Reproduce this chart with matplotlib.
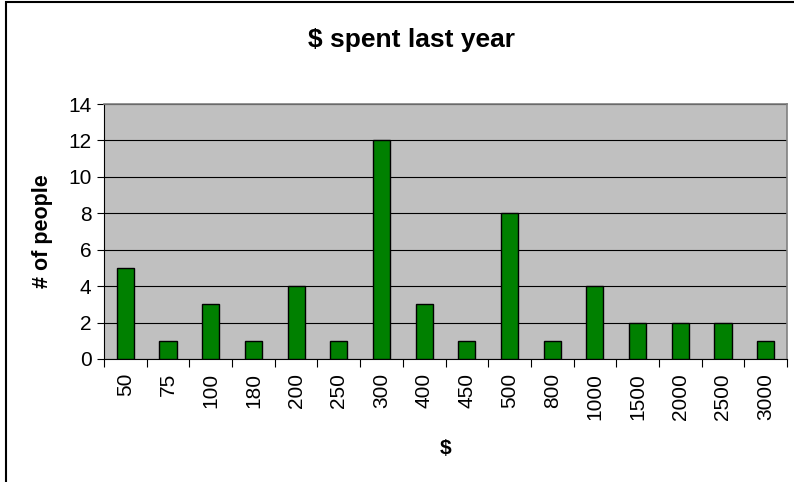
import matplotlib
matplotlib.use("Agg")
import matplotlib.pyplot as plt
from matplotlib.patches import Rectangle

categories = ["50", "75", "100", "180", "200", "250", "300", "400", "450", "500",
              "800", "1000", "1500", "2000", "2500", "3000"]
counts = [5, 1, 3, 1, 4, 1, 12, 3, 1, 8, 1, 4, 2, 2, 2, 1]
yticks = [0, 2, 4, 6, 8, 10, 12, 14]

plt.rcParams['font.family'] = ['Liberation Sans', 'DejaVu Sans']

fig = plt.figure(figsize=(7.94, 4.82), dpi=100)
W, H = 794, 482
ax = fig.add_axes([104 / W, 1 - 359 / H, (787 - 104) / W, (359 - 104) / H])

# outer chart border
fig.patches.append(Rectangle((6 / W, -0.1), 1.2, 1.1 - 1.5 / H, transform=fig.transFigure,
                             fill=False, edgecolor='black', linewidth=1.5))

ax.set_facecolor('#C0C0C0')
x = list(range(len(categories)))
ax.bar(x, counts, width=0.4, color='#008000', edgecolor='black', linewidth=1, zorder=3)
ax.set_xlim(-0.5, len(categories) - 0.5)
ax.set_ylim(0, 14)
ax.set_yticks(yticks)
ax.yaxis.grid(True, color='black', linewidth=0.8, zorder=1)
ax.set_axisbelow(True)

ax.set_xticks(x)
ax.set_xticklabels(categories, rotation=90, fontsize=15)
ax.tick_params(axis='x', length=0, pad=10)
ax.set_xticks([i - 0.5 for i in range(len(categories) + 1)], minor=True)
ax.tick_params(axis='x', which='minor', length=6, color='black', width=0.8)
ax.tick_params(axis='y', labelsize=15, length=5, width=0.8, pad=4)

for s in ['top', 'right']:
    ax.spines[s].set_color('#808080')
    ax.spines[s].set_linewidth(1.2)
ax.spines['left'].set_color('black')
ax.spines['bottom'].set_color('black')

ax.set_ylabel('# of people', fontsize=15.5, fontweight='bold', labelpad=11)
ax.set_xlabel('$', fontsize=15, fontweight='bold', labelpad=14)
fig.text(411 / W, 1 - 40 / H, '$ spent last year', fontsize=19,
         fontweight='bold', ha='center', va='center')

fig.savefig('out.png', dpi=100)
